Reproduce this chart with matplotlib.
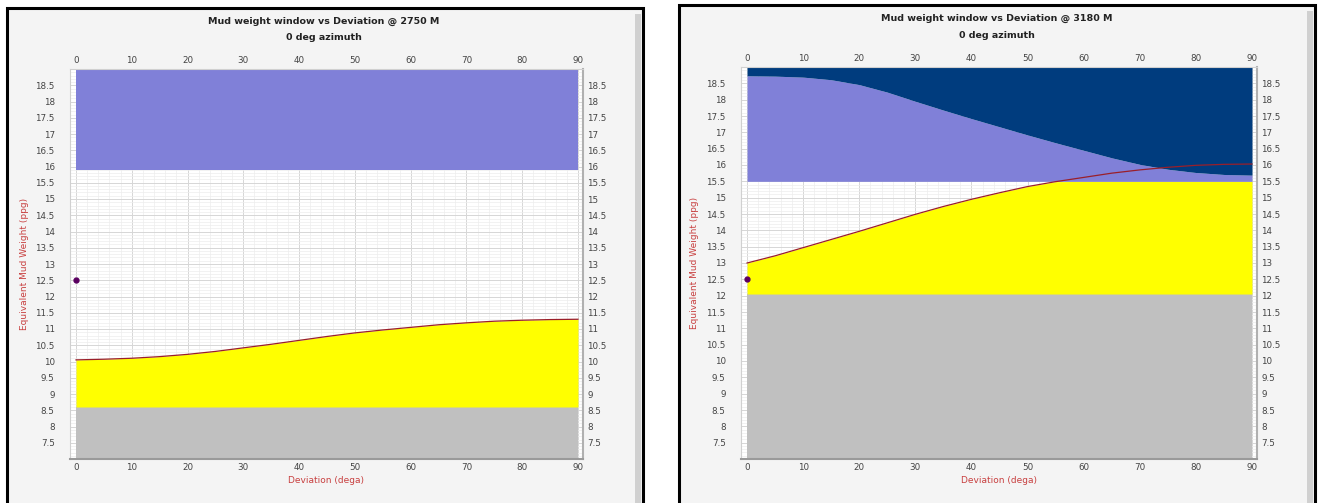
import numpy as np
import matplotlib
matplotlib.use("Agg")
import matplotlib.pyplot as plt
from matplotlib.patches import Rectangle
from matplotlib.ticker import MultipleLocator, FuncFormatter

# deviation (deg) where the curves were read
dev = [0, 5, 10, 15, 20, 25, 30, 35, 40, 45, 50, 55, 60, 65, 70, 75, 80, 85, 90]

# panel 1 : 2750 M
mw_2750 = 12.5
grey_top_2750 = 8.6
purple_bot_2750 = 15.88
upper_2750 = [10.05, 10.07, 10.10, 10.15, 10.22, 10.31, 10.42, 10.53, 10.65, 10.77,
              10.88, 10.97, 11.05, 11.13, 11.19, 11.24, 11.27, 11.29, 11.30]

# panel 2 : 3180 M
mw_3180 = 12.5
grey_top_3180 = 12.05
purple_bot_3180 = 15.5
line_3180 = [13.00, 13.22, 13.47, 13.72, 13.97, 14.23, 14.49, 14.73, 14.95, 15.15,
             15.34, 15.49, 15.62, 15.75, 15.85, 15.93, 15.99, 16.02, 16.03]
purple_top_3180 = [18.73, 18.72, 18.69, 18.61, 18.46, 18.23, 17.95, 17.68, 17.42, 17.17,
                   16.92, 16.68, 16.45, 16.22, 16.02, 15.87, 15.77, 15.71, 15.69]

titles = ["Mud weight window vs Deviation @ 2750 M", "Mud weight window vs Deviation @ 3180 M"]
subtitle = "0 deg azimuth"

W, H = 1322, 503
Y_MIN, Y_MAX = 7.0, 19.0

PURPLE = "#8080d8"
NAVY = "#003c7e"
YELLOW = "#ffff00"
GREY = "#c0c0c0"
RED_LBL = "#c84040"
LINE = "#9a1f2a"
DOT = "#5a0060"
TXT = "#444444"

fig = plt.figure(figsize=(W / 100, H / 100), dpi=100)
fig.patch.set_facecolor("white")


def px_axes(x0, y_top, x1, y_bot):
    ax = fig.add_axes([x0 / W, 1 - y_bot / H, (x1 - x0) / W, (y_bot - y_top) / H])
    ax.set_zorder(5)
    return ax


def frame(x0, y0, x1):
    fig.patches.append(Rectangle((x0 / W, -0.02), (x1 - x0) / W, 1.02 - y0 / H,
                                 transform=fig.transFigure, facecolor="#f4f4f4",
                                 edgecolor="black", lw=2.2, zorder=-2))
    # drop shadow at the right edge
    fig.patches.append(Rectangle(((x1 - 8) / W, -0.02), 6 / W, 1.02 - (y0 + 6) / H,
                                 transform=fig.transFigure, facecolor="#d0d0d0",
                                 edgecolor="none", zorder=-1))


def style(ax, title, cx, ty, left_pad, ylabel_x):
    ax.set_facecolor("white")
    ax.set_xlim(-1.08, 90.9)
    ax.set_ylim(Y_MIN, Y_MAX)
    ax.xaxis.set_major_locator(MultipleLocator(10))
    ax.xaxis.set_minor_locator(MultipleLocator(2))
    ax.yaxis.set_major_locator(MultipleLocator(0.5))
    ax.yaxis.set_minor_locator(MultipleLocator(0.1))
    ax.set_yticks(np.arange(7.5, 18.51, 0.5))
    ax.yaxis.set_major_formatter(FuncFormatter(lambda v, p: f"{v:g}"))
    ax.grid(which="major", color="#d6d6d6", lw=0.7)
    ax.grid(which="minor", color="#ededed", lw=0.5)
    ax.set_axisbelow(True)
    ax.tick_params(which="both", length=0, labelsize=6.3, colors=TXT)
    ax.tick_params(axis="x", top=True, labeltop=True, pad=3)
    ax.tick_params(axis="y", pad=left_pad)
    for s in ["left", "top"]:
        ax.spines[s].set_color("#d0d0d0")
    ax.spines["bottom"].set_color("#9a9a9a")
    ax.spines["bottom"].set_linewidth(1.5)
    ax.spines["right"].set_color("#b0b0b0")
    ax.spines["right"].set_linewidth(1.5)
    sec = ax.secondary_yaxis("right")
    sec.set_yticks(np.arange(7.5, 18.51, 0.5))
    sec.yaxis.set_major_formatter(FuncFormatter(lambda v, p: f"{v:g}"))
    sec.tick_params(length=0, labelsize=6.3, colors=TXT, pad=3)
    sec.spines["right"].set_visible(False)
    ax.set_xlabel("Deviation (dega)", color=RED_LBL, fontsize=6.5, labelpad=3)
    ax.set_ylabel("Equivalent Mud Weight (ppg)", color=RED_LBL, fontsize=6.5)
    ax.yaxis.set_label_coords(ylabel_x, 0.5)
    fig.text(cx / W, 1 - ty / H, title, ha="center", va="center",
             fontsize=6.8, fontweight="bold", color="#222222")
    fig.text(cx / W, 1 - (ty + 17) / H, subtitle, ha="center", va="center",
             fontsize=6.8, fontweight="bold", color="#222222")


x = np.array(dev)

# ---- panel 1 ----
frame(7, 8, 643)
ax1 = px_axes(70, 69, 583, 459)
ax1.fill_between(x, Y_MIN, grey_top_2750, color=GREY, lw=0)
ax1.fill_between(x, grey_top_2750, upper_2750, color=YELLOW, lw=0)
ax1.fill_between(x, purple_bot_2750, Y_MAX, color=PURPLE, lw=0)
ax1.plot(x, upper_2750, color=LINE, lw=0.9)
ax1.plot([0], [mw_2750], "o", color=DOT, ms=3.5, clip_on=False, zorder=5)
style(ax1, titles[0], 324, 21, 11, -0.08)

# ---- panel 2 ----
frame(679, 5, 1315)
ax2 = px_axes(741, 67, 1257, 459)
line = np.array(line_3180)
ax2.fill_between(x, Y_MIN, grey_top_3180, color=GREY, lw=0)
ax2.fill_between(x, grey_top_3180, np.minimum(line, purple_bot_3180), color=YELLOW, lw=0)
ax2.fill_between(x, purple_bot_3180, purple_top_3180, color=PURPLE, lw=0)
ax2.fill_between(x, purple_top_3180, Y_MAX, color=NAVY, lw=0)
ax2.plot(x, line, color=LINE, lw=0.9)
ax2.plot([0], [mw_3180], "o", color=DOT, ms=3.5, clip_on=False, zorder=5)
style(ax2, titles[1], 997, 18, 11, -0.081)

fig.savefig("out.png", dpi=100, facecolor=fig.get_facecolor())
